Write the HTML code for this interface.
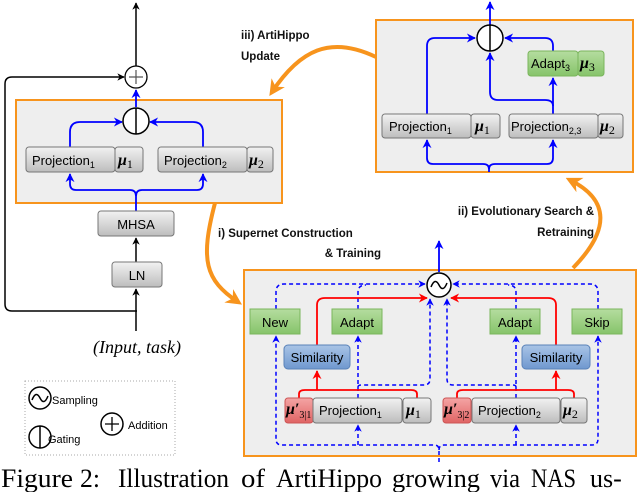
<!DOCTYPE html>
<html><head><meta charset="utf-8"><style>
body{margin:0;background:#fff}
svg{display:block}
text{font-family:"Liberation Sans",sans-serif}
text.s,tspan.s{font-family:"Liberation Serif",serif}
.bx{stroke:#777;stroke-width:1;}
</style></head><body>
<svg width="640" height="492" viewBox="0 0 640 492" xmlns="http://www.w3.org/2000/svg">
<defs>
<linearGradient id="g" x1="0" y1="0" x2="0" y2="1"><stop offset="0" stop-color="#f2f2f2"/><stop offset="1" stop-color="#bdbdbd"/></linearGradient>
<linearGradient id="gr" x1="0" y1="0" x2="0" y2="1"><stop offset="0" stop-color="#b5dd9f"/><stop offset="1" stop-color="#86c46a"/></linearGradient>
<linearGradient id="bl" x1="0" y1="0" x2="0" y2="1"><stop offset="0" stop-color="#a9c4e6"/><stop offset="1" stop-color="#6f98cf"/></linearGradient>
<linearGradient id="rd" x1="0" y1="0" x2="0" y2="1"><stop offset="0" stop-color="#f4a4a4"/><stop offset="1" stop-color="#e06464"/></linearGradient>
<marker id="ab" viewBox="0 0 10 10" refX="9" refY="5" markerWidth="5" markerHeight="5" orient="auto"><path d="M0,0L10,5L0,10L3,5z" fill="#00f"/></marker>
<marker id="ak" viewBox="0 0 10 10" refX="9" refY="5" markerWidth="5" markerHeight="5" orient="auto"><path d="M0,0L10,5L0,10L3,5z" fill="#000"/></marker>
<marker id="ar" viewBox="0 0 10 10" refX="9" refY="5" markerWidth="5" markerHeight="5" orient="auto"><path d="M0,0L10,5L0,10L3,5z" fill="#f00"/></marker>
<marker id="ao" viewBox="0 0 10 10" refX="7" refY="5" markerWidth="4" markerHeight="4" orient="auto"><path d="M0,0L10,5L0,10L3,5z" fill="#f7941d"/></marker>
</defs>

<!-- LEFT -->
<line x1="136" y1="66" x2="136" y2="3" stroke="#000" stroke-width="1.5" marker-end="url(#ak)"/>
<path d="M137,311 H12 Q5,311 5,304 V84 Q5,77 12,77 H124" fill="none" stroke="#000" stroke-width="1.5" marker-end="url(#ak)"/>
<circle cx="136" cy="77" r="11" fill="#fff" stroke="#000" stroke-width="1.3"/>
<path d="M129,77h14M136,70v14" stroke="#555" stroke-width="1.2"/>
<rect x="16" y="100" width="266" height="103" fill="#eee" stroke="#f7941d" stroke-width="2"/>
<line x1="136" y1="107" x2="136" y2="90" stroke="#00f" stroke-width="1.8" marker-end="url(#ab)"/>
<path d="M70,147 V132 Q70,122 80,122 H122" fill="none" stroke="#00f" stroke-width="1.8" marker-end="url(#ab)"/>
<path d="M203,147 V132 Q203,122 193,122 H150" fill="none" stroke="#00f" stroke-width="1.8" marker-end="url(#ab)"/>
<circle cx="136" cy="121" r="13" fill="#fff" stroke="#000" stroke-width="1.5"/>
<line x1="136" y1="108" x2="136" y2="134" stroke="#000" stroke-width="1.5"/>
<path d="M136,211 V196 Q136,190 130,190 H76 Q70,190 70,184 V174" fill="none" stroke="#00f" stroke-width="1.8" marker-end="url(#ab)"/>
<path d="M136,196 Q136,190 142,190 H197 Q203,190 203,184 V174" fill="none" stroke="#00f" stroke-width="1.8" marker-end="url(#ab)"/>
<rect class="bx" x="26" y="147" width="89" height="25" rx="3" fill="url(#g)"/>
<rect class="bx" x="115" y="147" width="28" height="25" rx="3" fill="url(#g)"/>
<text x="32" y="165" font-size="13">Projection<tspan font-size="9" dy="3">1</tspan></text>
<text class="s" x="118" y="165" font-size="16" font-style="italic" font-weight="bold">μ<tspan font-size="12" dy="3" font-style="normal" font-weight="normal">1</tspan></text>
<rect class="bx" x="158" y="147" width="89" height="25" rx="3" fill="url(#g)"/>
<rect class="bx" x="247" y="147" width="26" height="25" rx="3" fill="url(#g)"/>
<text x="164" y="165" font-size="13">Projection<tspan font-size="9" dy="3">2</tspan></text>
<text class="s" x="249" y="165" font-size="16" font-style="italic" font-weight="bold">μ<tspan font-size="12" dy="3" font-style="normal" font-weight="normal">2</tspan></text>
<rect class="bx" x="98" y="211" width="76" height="25" rx="3" fill="url(#g)"/>
<text x="136" y="229" font-size="13" text-anchor="middle">MHSA</text>
<line x1="136" y1="262" x2="136" y2="238" stroke="#000" stroke-width="1.5" marker-end="url(#ak)"/>
<rect class="bx" x="112" y="262" width="50" height="25" rx="3" fill="url(#g)"/>
<text x="137" y="280" font-size="13" text-anchor="middle">LN</text>
<line x1="136" y1="331" x2="136" y2="289" stroke="#000" stroke-width="1.5" marker-end="url(#ak)"/>
<text class="s" x="137" y="353" font-size="18" font-style="italic" text-anchor="middle">(Input, task)</text>

<!-- TOP RIGHT -->
<rect x="376" y="20" width="257" height="152" fill="#eee" stroke="#f7941d" stroke-width="2"/>
<line x1="490" y1="25" x2="490" y2="2" stroke="#00f" stroke-width="1.8" marker-end="url(#ab)"/>
<path d="M427,114 V46 Q427,38 435,38 H475" fill="none" stroke="#00f" stroke-width="1.8" marker-end="url(#ab)"/>
<path d="M553,51 V46 Q553,38 545,38 H505" fill="none" stroke="#00f" stroke-width="1.8" marker-end="url(#ab)"/>
<path d="M553,114 V106 Q553,100 545,100 H498 Q490,100 490,92 V53" fill="none" stroke="#00f" stroke-width="1.8" marker-end="url(#ab)"/>
<line x1="553" y1="106" x2="553" y2="78" stroke="#00f" stroke-width="1.8" marker-end="url(#ab)"/>
<circle cx="490" cy="38" r="13" fill="#fff" stroke="#000" stroke-width="1.5"/>
<line x1="490" y1="25" x2="490" y2="51" stroke="#000" stroke-width="1.5"/>
<path d="M489,172 V169 Q489,164 483,164 H433 Q427,164 427,158 V140" fill="none" stroke="#00f" stroke-width="1.8" marker-end="url(#ab)"/>
<path d="M489,169 Q489,164 495,164 H547 Q553,164 553,158 V140" fill="none" stroke="#00f" stroke-width="1.8" marker-end="url(#ab)"/>
<rect class="bx" x="382" y="114" width="89" height="24" rx="3" fill="url(#g)"/>
<rect class="bx" x="471" y="114" width="29" height="24" rx="3" fill="url(#g)"/>
<text x="389" y="131" font-size="13">Projection<tspan font-size="9" dy="3">1</tspan></text>
<text class="s" x="475" y="131" font-size="16" font-style="italic" font-weight="bold">μ<tspan font-size="12" dy="3" font-style="normal" font-weight="normal">1</tspan></text>
<rect class="bx" x="509" y="114" width="89" height="24" rx="3" fill="url(#g)"/>
<rect class="bx" x="598" y="114" width="25" height="24" rx="3" fill="url(#g)"/>
<text x="511" y="131" font-size="13">Projection<tspan font-size="9" dy="3">2,3</tspan></text>
<text class="s" x="600" y="131" font-size="16" font-style="italic" font-weight="bold">μ<tspan font-size="12" dy="3" font-style="normal" font-weight="normal">2</tspan></text>
<rect x="528" y="51" width="50" height="25" rx="3" fill="url(#gr)" stroke="#7ab55c"/>
<rect x="578" y="51" width="26" height="25" rx="3" fill="url(#gr)" stroke="#7ab55c"/>
<text x="531" y="68" font-size="13">Adapt<tspan font-size="9" dy="3">3</tspan></text>
<text class="s" x="580" y="68" font-size="16" font-style="italic" font-weight="bold">μ<tspan font-size="12" dy="3" font-style="normal" font-weight="normal">3</tspan></text>

<!-- ORANGE ARROWS -->
<path d="M376,57 C330,35 300,50 272,92" fill="none" stroke="#f7941d" stroke-width="4" marker-end="url(#ao)"/>
<path d="M215,203 C200,260 205,280 238,302" fill="none" stroke="#f7941d" stroke-width="4" marker-end="url(#ao)"/>
<path d="M573,268 C610,230 610,200 570,180" fill="none" stroke="#f7941d" stroke-width="4" marker-end="url(#ao)"/>
<g font-size="11.5" font-weight="bold" fill="#111">
<text x="241" y="39">iii) ArtiHippo</text>
<text x="241" y="60">Update</text>
<text x="218" y="237">i) Supernet Construction</text>
<text x="381" y="257" text-anchor="end">&amp; Training</text>
<text x="594" y="215" text-anchor="end">ii) Evolutionary Search &amp;</text>
<text x="594" y="236" text-anchor="end">Retraining</text>
</g>

<!-- BOTTOM RIGHT -->
<rect x="244" y="270" width="392" height="186" fill="#eee" stroke="#f7941d" stroke-width="2"/>
<line x1="439" y1="272" x2="439" y2="241" stroke="#00f" stroke-width="1.8" marker-end="url(#ab)"/>
<g fill="none" stroke="#00f" stroke-width="1.5" stroke-dasharray="4,3">
<path d="M439,462 V450 Q439,445 434,445 H282 Q276,445 276,439 V336" marker-end="url(#ab)"/>
<path d="M358,445 V425" marker-end="url(#ab)"/>
<path d="M439,450 Q439,445 444,445 H592 Q598,445 598,439 V336" marker-end="url(#ab)"/>
<path d="M516,445 V425" marker-end="url(#ab)"/>
<path d="M276,309 V292 Q276,284 284,284 H425" marker-end="url(#ab)"/>
<path d="M358,398 V336" marker-end="url(#ab)"/>
<path d="M358,309 V292 Q358,285 366,285"/>
<path d="M358,387 Q358,385 362,385 H424 Q430,385 430,379 V299" marker-end="url(#ab)"/>
<path d="M598,309 V292 Q598,284 590,284 H453" marker-end="url(#ab)"/>
<path d="M516,398 V336" marker-end="url(#ab)"/>
<path d="M516,309 V292 Q516,285 508,285"/>
<path d="M516,387 Q516,385 512,385 H453 Q447,385 447,379 V299" marker-end="url(#ab)"/>
</g>
<g fill="none" stroke="#f00" stroke-width="1.8">
<path d="M299,398 V394 Q299,390 305,390 H411 Q417,390 417,394 V398"/>
<path d="M317,390 V371" marker-end="url(#ar)"/>
<path d="M317,345 V305 Q317,298 325,298 H427" marker-end="url(#ar)"/>
<path d="M457,398 V394 Q457,390 463,390 H568 Q574,390 574,394 V398"/>
<path d="M556,390 V371" marker-end="url(#ar)"/>
<path d="M556,345 V305 Q556,298 548,298 H451" marker-end="url(#ar)"/>
</g>
<circle cx="439" cy="285" r="12" fill="#fff" stroke="#000" stroke-width="1.5"/>
<path d="M431,287 Q435,277 439,285 Q443,293 447,283" fill="none" stroke="#000" stroke-width="1.5"/>
<g font-size="13">
<rect x="250" y="309" width="50" height="25" fill="url(#gr)" stroke="#7ab55c"/><text x="275" y="327" text-anchor="middle">New</text>
<rect x="332" y="309" width="50" height="25" fill="url(#gr)" stroke="#7ab55c"/><text x="357" y="327" text-anchor="middle">Adapt</text>
<rect x="490" y="309" width="50" height="25" fill="url(#gr)" stroke="#7ab55c"/><text x="515" y="327" text-anchor="middle">Adapt</text>
<rect x="572" y="309" width="50" height="25" fill="url(#gr)" stroke="#7ab55c"/><text x="597" y="327" text-anchor="middle">Skip</text>
<rect x="284" y="345" width="66" height="24" rx="4" fill="url(#bl)" stroke="#5a82b8"/><text x="317" y="362" text-anchor="middle">Similarity</text>
<rect x="522" y="345" width="68" height="24" rx="4" fill="url(#bl)" stroke="#5a82b8"/><text x="556" y="362" text-anchor="middle">Similarity</text>
<rect x="285" y="398" width="28" height="25" rx="3" fill="url(#rd)" stroke="#c55"/>
<text class="s" x="286" y="414" font-size="16" font-style="italic" font-weight="bold">μ′<tspan font-size="10" dy="4" font-style="normal" font-weight="normal">3|1</tspan></text>
<rect class="bx" x="313" y="398" width="89" height="25" rx="3" fill="url(#g)"/><text x="319" y="415">Projection<tspan font-size="9" dy="3">1</tspan></text>
<rect class="bx" x="403" y="398" width="28" height="25" rx="3" fill="url(#g)"/>
<text class="s" x="406" y="415" font-size="16" font-style="italic" font-weight="bold">μ<tspan font-size="12" dy="3" font-style="normal" font-weight="normal">1</tspan></text>
<rect x="443" y="398" width="28" height="25" rx="3" fill="url(#rd)" stroke="#c55"/>
<text class="s" x="444" y="414" font-size="16" font-style="italic" font-weight="bold">μ′<tspan font-size="10" dy="4" font-style="normal" font-weight="normal">3|2</tspan></text>
<rect class="bx" x="472" y="398" width="88" height="25" rx="3" fill="url(#g)"/><text x="478" y="415">Projection<tspan font-size="9" dy="3">2</tspan></text>
<rect class="bx" x="561" y="398" width="26" height="25" rx="3" fill="url(#g)"/>
<text class="s" x="563" y="415" font-size="16" font-style="italic" font-weight="bold">μ<tspan font-size="12" dy="3" font-style="normal" font-weight="normal">2</tspan></text>
</g>

<!-- LEGEND -->
<rect x="25" y="381" width="150" height="74" fill="none" stroke="#aaa" stroke-dasharray="1,2"/>
<circle cx="40" cy="398" r="11" fill="#fff" stroke="#000" stroke-width="1.5"/>
<path d="M32,400 Q36,390 40,398 Q44,406 48,396" fill="none" stroke="#000" stroke-width="1.5"/>
<text x="52" y="404" font-size="11">Sampling</text>
<circle cx="40" cy="437" r="11" fill="#fff" stroke="#000" stroke-width="1.5"/>
<line x1="40" y1="426" x2="40" y2="448" stroke="#000" stroke-width="1.5"/>
<text x="48" y="443" font-size="11">Gating</text>
<circle cx="112" cy="424" r="11" fill="#fff" stroke="#000" stroke-width="1.5"/>
<path d="M105,424h14M112,417v14" stroke="#000" stroke-width="1.3"/>
<text x="128" y="429" font-size="11">Addition</text>

<g font-size="26">
<text class="s" x="1" y="487" textLength="72" lengthAdjust="spacingAndGlyphs">Figure</text>
<text class="s" x="80" y="487" textLength="20" lengthAdjust="spacingAndGlyphs">2:</text>
<text class="s" x="118" y="487" textLength="111" lengthAdjust="spacingAndGlyphs">Illustration</text>
<text class="s" x="241" y="487" textLength="24" lengthAdjust="spacingAndGlyphs">of</text>
<text class="s" x="276" y="487" textLength="106" lengthAdjust="spacingAndGlyphs">ArtiHippo</text>
<text class="s" x="392" y="487" textLength="88" lengthAdjust="spacingAndGlyphs">growing</text>
<text class="s" x="490" y="487" textLength="30" lengthAdjust="spacingAndGlyphs">via</text>
<text class="s" x="531" y="487" textLength="45" lengthAdjust="spacingAndGlyphs">NAS</text>
<text class="s" x="590" y="487">us-</text>
</g>
</svg>
</body></html>
